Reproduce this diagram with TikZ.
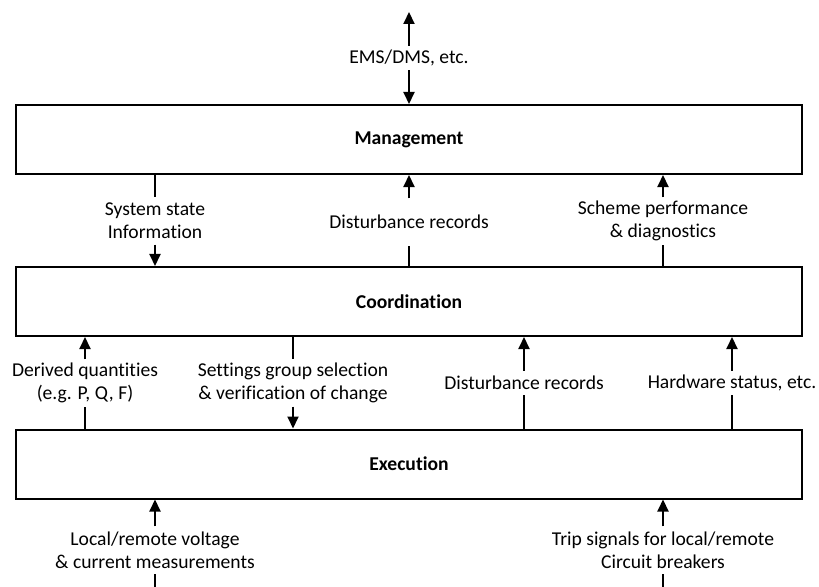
\documentclass[tikz,border=0pt]{standalone}
\usepackage{fontspec}
\setmainfont{Carlito}[Ligatures=NoCommon]
\usetikzlibrary{arrows.meta}
\begin{document}
\begin{tikzpicture}[x=1bp,y=-1bp,
  box/.style={draw, line width=2bp, minimum width=786bp, minimum height=69bp, inner sep=0pt,
    font=\fontsize{19.6bp}{23bp}\selectfont\bfseries},
  lbl/.style={align=center, inner sep=0pt, font=\fontsize{19.6bp}{23bp}\selectfont},
  tall/.style={minimum height=47bp},
  short/.style={minimum height=24bp},
  conn/.style={line width=2bp},
  arr/.style={conn, -{Triangle[length=12bp,width=11bp]}}]
\useasboundingbox (0,0) rectangle (819,587);

% layer boxes
\node[box] (mgmt)  at (409,139.5) {Management};
\node[box] (coord) at (409,301.5) {Coordination};
\node[box] (exec)  at (409,464)   {Execution};

% top
\node[lbl,short] (ems) at (409,58) {EMS/DMS, etc.};
\coordinate (top) at (409,12);
\draw[arr] (ems.north) -- (top);
\draw[arr] (ems.south) -- (mgmt.north);

% management <-> coordination
\node[lbl,tall] (sys) at (155,221) {System state\\Information};
\draw[conn] (mgmt.south -| sys) -- (sys.north);
\draw[arr] (sys.south) -- (coord.north -| sys);

\node[lbl,tall] (dr1) at (409,222) {Disturbance records};
\draw[conn] (coord.north -| dr1) -- (dr1.south);
\draw[arr] (dr1.north) -- (mgmt.south -| dr1);

\node[lbl,tall] (sch) at (663,221) {Scheme performance\\\& diagnostics};
\draw[conn] (coord.north -| sch) -- (sch.south);
\draw[arr] (sch.north) -- (mgmt.south -| sch);

% coordination <-> execution
\node[lbl,tall] (der) at (85,383) {Derived quantities\\(e.g. P, Q, F)};
\draw[conn] (exec.north -| der) -- (der.south);
\draw[arr] (der.north) -- (coord.south -| der);

\node[lbl,tall] (set) at (293,383) {Settings group selection\\\& verification of change};
\draw[conn] (coord.south -| set) -- (set.north);
\draw[arr] (set.south) -- (exec.north -| set);

\node[lbl,short] (dr2) at (524,383) {Disturbance records};
\draw[conn] (exec.north -| dr2) -- (dr2.south);
\draw[arr] (dr2.north) -- (coord.south -| dr2);

\node[lbl,short] (hw) at (732,383) {Hardware status, etc.};
\draw[conn] (exec.north -| hw) -- (hw.south);
\draw[arr] (hw.north) -- (coord.south -| hw);

% bottom
\node[lbl,tall] (loc) at (155,550) {Local/remote voltage\\\& current measurements};
\coordinate (locb) at (155,587);
\draw[conn] (locb) -- (loc.south);
\draw[arr] (loc.north) -- (exec.south -| loc);

\node[lbl,tall] (trip) at (663,550) {Trip signals for local/remote\\Circuit breakers};
\coordinate (tripb) at (663,587);
\draw[conn] (tripb) -- (trip.south);
\draw[arr] (trip.north) -- (exec.south -| trip);
\end{tikzpicture}
\end{document}
